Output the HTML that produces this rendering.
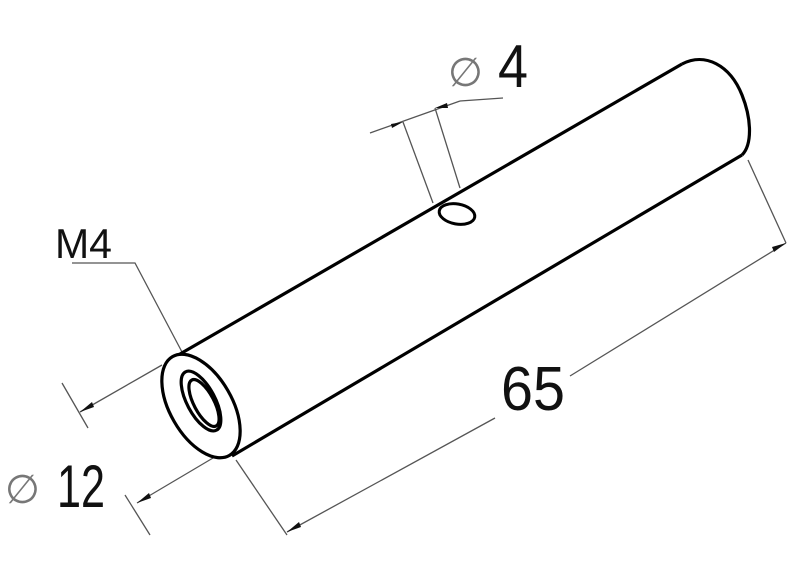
<!DOCTYPE html>
<html><head><meta charset="utf-8"><style>
html,body{margin:0;padding:0;background:#fff;width:800px;height:571px;overflow:hidden}
text{font-family:"Liberation Sans",sans-serif;fill:#111}
</style></head><body>
<svg width="800" height="571" viewBox="0 0 800 571" xmlns="http://www.w3.org/2000/svg">
<g fill="none" stroke="#555" stroke-width="1.3">
<polyline points="72,263 135,263 182,352"/>
<line x1="162" y1="365" x2="80" y2="412"/>
<line x1="62" y1="383" x2="88" y2="428"/>
<line x1="213" y1="458" x2="137" y2="503"/>
<line x1="125" y1="495" x2="150" y2="535"/>
<line x1="236" y1="460" x2="287" y2="535"/>
<line x1="748" y1="160" x2="786" y2="243"/>
<line x1="287" y1="532" x2="495" y2="418"/>
<line x1="570" y1="376" x2="786" y2="243"/>
<line x1="403" y1="122" x2="433" y2="203"/>
<line x1="435" y1="108" x2="460" y2="188"/>
<line x1="370" y1="133" x2="460" y2="101"/>
<line x1="460" y1="101" x2="503" y2="98"/>
</g>
<g fill="#111">
<polygon points="80,412 92,402 94,407"/>
<polygon points="137,503 149,493 151,498"/>
<polygon points="287,532 299,522 301,527"/>
<polygon points="786,243 774,252 772,247"/>
<polygon points="403,122 391,124 392,128"/>
<polygon points="435,108 447,103 448,108"/>
</g>
<g fill="none" stroke="#000" stroke-width="3.2">
<line x1="180" y1="354" x2="682" y2="64"/>
<line x1="232" y1="456" x2="742" y2="155"/>
<path d="M682,64 C705,52 730,65 742,95 C752,120 752,145 742,155"/>
<ellipse cx="201" cy="406" rx="57" ry="31" transform="rotate(60 201 406)"/>
<ellipse cx="201" cy="401" rx="33" ry="14" transform="rotate(62 201 401)"/>
<ellipse cx="204" cy="403" rx="26" ry="10" transform="rotate(62 204 403)"/>
</g>
<ellipse cx="457" cy="214" rx="18" ry="10" transform="rotate(10 457 214)" fill="none" stroke="#000" stroke-width="3"/>
<text x="55" y="258" font-size="42" textLength="57" lengthAdjust="spacingAndGlyphs">M4</text>
<text x="448" y="86" font-size="40" style="fill:#777">∅</text>
<text x="498" y="87" font-size="60" textLength="30" lengthAdjust="spacingAndGlyphs">4</text>
<text x="5" y="503" font-size="40" style="fill:#777">∅</text>
<text x="57" y="507" font-size="60" textLength="48" lengthAdjust="spacingAndGlyphs">12</text>
<text x="501" y="410" font-size="62" textLength="64" lengthAdjust="spacingAndGlyphs">65</text>
</svg>
</body></html>
